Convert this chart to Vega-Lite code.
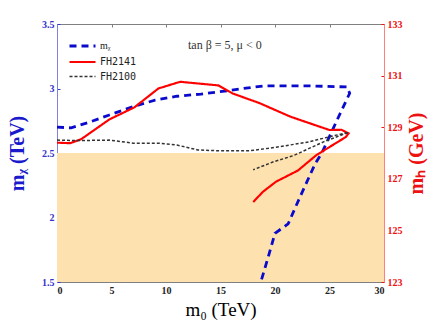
{
  "$schema": "https://vega.github.io/schema/vega-lite/v6.json",
  "width": 327,
  "height": 258,
  "autosize": {"type": "none"},
  "padding": {"left": 57, "top": 24, "right": 52, "bottom": 45},
  "background": "white",
  "config": {
    "view": {"stroke": "#808080", "strokeWidth": 1},
    "axis": {"grid": false, "labelFont": "Liberation Serif", "labelFontWeight": "bold", "labelFontSize": 10, "titleFont": "Liberation Serif", "tickSize": -3, "labelPadding": 6}
  },
  "datasets": {
    "blue": [
      {"i": 0, "x": 0, "y": 2.70, "series": "mᵪ"},
      {"i": 1, "x": 1.3, "y": 2.695, "series": "mᵪ"},
      {"i": 2, "x": 3, "y": 2.74, "series": "mᵪ"},
      {"i": 3, "x": 4.8, "y": 2.795, "series": "mᵪ"},
      {"i": 4, "x": 7, "y": 2.86, "series": "mᵪ"},
      {"i": 5, "x": 9, "y": 2.91, "series": "mᵪ"},
      {"i": 6, "x": 11, "y": 2.94, "series": "mᵪ"},
      {"i": 7, "x": 13.2, "y": 2.957, "series": "mᵪ"},
      {"i": 8, "x": 15.4, "y": 2.98, "series": "mᵪ"},
      {"i": 9, "x": 17.1, "y": 3.0, "series": "mᵪ"},
      {"i": 10, "x": 19, "y": 3.02, "series": "mᵪ"},
      {"i": 11, "x": 23.2, "y": 3.02, "series": "mᵪ"},
      {"i": 12, "x": 26.6, "y": 3.012, "series": "mᵪ"},
      {"i": 13, "x": 26.85, "y": 2.963, "series": "mᵪ"},
      {"i": 14, "x": 25.7, "y": 2.756, "series": "mᵪ"},
      {"i": 15, "x": 24.3, "y": 2.5, "series": "mᵪ"},
      {"i": 16, "x": 23.7, "y": 2.42, "series": "mᵪ"},
      {"i": 17, "x": 22.3, "y": 2.16, "series": "mᵪ"},
      {"i": 18, "x": 21.2, "y": 1.95, "series": "mᵪ"},
      {"i": 19, "x": 20.0, "y": 1.878, "series": "mᵪ"},
      {"i": 20, "x": 19.4, "y": 1.7, "series": "mᵪ"},
      {"i": 21, "x": 18.7, "y": 1.5, "series": "mᵪ"}
    ],
    "higgs": [
      {"series": "FH2141", "i": 0, "x": 0, "mh": 128.4},
      {"series": "FH2141", "i": 1, "x": 1.2, "mh": 128.38},
      {"series": "FH2141", "i": 2, "x": 2.2, "mh": 128.53},
      {"series": "FH2141", "i": 3, "x": 4.8, "mh": 129.3},
      {"series": "FH2141", "i": 4, "x": 7.1, "mh": 129.77},
      {"series": "FH2141", "i": 5, "x": 9.3, "mh": 130.5},
      {"series": "FH2141", "i": 6, "x": 11.3, "mh": 130.76},
      {"series": "FH2141", "i": 7, "x": 14.8, "mh": 130.62},
      {"series": "FH2141", "i": 8, "x": 16.1, "mh": 130.31},
      {"series": "FH2141", "i": 9, "x": 18.6, "mh": 129.93},
      {"series": "FH2141", "i": 10, "x": 21.4, "mh": 129.41},
      {"series": "FH2141", "i": 11, "x": 23.2, "mh": 129.15},
      {"series": "FH2141", "i": 12, "x": 25.0, "mh": 128.89},
      {"series": "FH2141", "i": 13, "x": 26.1, "mh": 128.9},
      {"series": "FH2141", "i": 14, "x": 26.75, "mh": 128.76},
      {"series": "FH2141", "i": 15, "x": 26.5, "mh": 128.62},
      {"series": "FH2141", "i": 16, "x": 23.8, "mh": 127.92},
      {"series": "FH2141", "i": 17, "x": 22.1, "mh": 127.32},
      {"series": "FH2141", "i": 18, "x": 20.1, "mh": 126.89},
      {"series": "FH2141", "i": 19, "x": 18.9, "mh": 126.5},
      {"series": "FH2141", "i": 20, "x": 18.0, "mh": 126.1},
      {"series": "FH2100", "i": 0, "x": 0, "mh": 128.5},
      {"series": "FH2100", "i": 1, "x": 1.8, "mh": 128.48},
      {"series": "FH2100", "i": 2, "x": 4.8, "mh": 128.5},
      {"series": "FH2100", "i": 3, "x": 7.0, "mh": 128.38},
      {"series": "FH2100", "i": 4, "x": 9.4, "mh": 128.38},
      {"series": "FH2100", "i": 5, "x": 11.0, "mh": 128.31},
      {"series": "FH2100", "i": 6, "x": 12.9, "mh": 128.12},
      {"series": "FH2100", "i": 7, "x": 14.6, "mh": 128.09},
      {"series": "FH2100", "i": 8, "x": 17.7, "mh": 128.09},
      {"series": "FH2100", "i": 9, "x": 20.1, "mh": 128.22},
      {"series": "FH2100", "i": 10, "x": 23.2, "mh": 128.44},
      {"series": "FH2100", "i": 11, "x": 25.0, "mh": 128.63},
      {"series": "FH2100", "i": 12, "x": 26.75, "mh": 128.8},
      {"series": "FH2100", "i": 13, "x": 24.5, "mh": 128.44},
      {"series": "FH2100", "i": 14, "x": 21.7, "mh": 127.9},
      {"series": "FH2100", "i": 15, "x": 19.8, "mh": 127.65},
      {"series": "FH2100", "i": 16, "x": 18.0, "mh": 127.35}
    ],
    "band": [{"x": 0, "x2": 30, "y": 1.5, "y2": 2.5}],
    "note": [{"x": 15.4, "y": 3.337, "label": "tan β = 5, μ < 0"}]
  },
  "layer": [
    {
      "layer": [
        {
          "data": {"name": "band"},
          "mark": {"type": "rect", "color": "#fde2b0"},
          "encoding": {
            "x": {"field": "x", "type": "quantitative", "scale": {"domain": [0, 30], "nice": false, "zero": false},
                  "axis": {"orient": "bottom", "values": [0, 5, 10, 15, 20, 25, 30], "title": "m₀ (TeV)", "titleFontSize": 19, "titleFontWeight": "normal", "titlePadding": 5, "domainColor": "#808080", "tickColor": "#808080", "labelColor": "#222222"}},
            "x2": {"field": "x2"},
            "y": {"field": "y", "type": "quantitative", "scale": {"domain": [1.5, 3.5], "nice": false, "zero": false},
                  "axis": {"orient": "left", "values": [1.5, 2, 2.5, 3, 3.5], "format": "~g", "title": "mᵪ (TeV)", "titleFontSize": 20, "titleColor": "#1a1acc", "titleFontWeight": "bold", "titlePadding": 14, "labelColor": "#3333cc", "tickColor": "#3333cc", "domainColor": "#8080e0"}},
            "y2": {"field": "y2"}
          }
        },
        {
          "data": {"name": "blue"},
          "mark": {"type": "line"},
          "encoding": {
            "x": {"field": "x", "type": "quantitative"},
            "y": {"field": "y", "type": "quantitative"},
            "order": {"field": "i", "type": "quantitative"},
            "color": {"field": "series", "type": "nominal"},
            "strokeDash": {"field": "series", "type": "nominal"},
            "strokeWidth": {"field": "series", "type": "nominal"}
          }
        },
        {
          "data": {"name": "note"},
          "mark": {"type": "text", "font": "Liberation Serif", "fontSize": 12, "color": "#333333"},
          "encoding": {
            "x": {"field": "x", "type": "quantitative"},
            "y": {"field": "y", "type": "quantitative"},
            "text": {"field": "label"}
          }
        }
      ]
    },
    {
      "data": {"name": "higgs"},
      "mark": {"type": "line"},
      "encoding": {
        "x": {"field": "x", "type": "quantitative", "axis": {"orient": "top", "values": [0, 5, 10, 15, 20, 25, 30], "labels": false, "title": null, "domainColor": "#808080", "tickColor": "#808080"}},
        "y": {"field": "mh", "type": "quantitative", "scale": {"domain": [123, 133], "nice": false, "zero": false},
              "axis": {"orient": "right", "values": [123, 125, 127, 129, 131, 133], "title": "mₕ (GeV)", "titleAngle": 270, "titleFontSize": 20, "titleFontWeight": "bold", "titleColor": "#ee1111", "titlePadding": 24, "labelColor": "#ee1111", "tickColor": "#ee1111", "domainColor": "#ff8080"}},
        "order": {"field": "i", "type": "quantitative"},
        "detail": {"field": "series"},
        "color": {"field": "series", "type": "nominal",
                  "scale": {"domain": ["mᵪ", "FH2141", "FH2100"], "range": ["#0a0acc", "#ff0000", "#333333"]},
                  "legend": {"orient": "none", "legendX": 17.5, "legendY": 14, "title": null, "symbolType": "M-2,0H2", "symbolSize": 169, "labelOffset": 9.5, "labelFont": {"expr": "datum.label == 'mᵪ' ? 'Liberation Serif' : 'DejaVu Sans Mono'"}, "labelFontSize": 10, "labelColor": "#222222", "rowPadding": 2, "padding": 0}},
        "strokeDash": {"field": "series", "type": "nominal", "scale": {"domain": ["mᵪ", "FH2141", "FH2100"], "range": [[7, 5], [1, 0], [3, 2]]}},
        "strokeWidth": {"field": "series", "type": "nominal", "scale": {"domain": ["mᵪ", "FH2141", "FH2100"], "range": [2.8, 1.5, 0.9]}}
      }
    }
  ],
  "resolve": {"scale": {"y": "independent"}, "axis": {"x": "independent"}}
}
